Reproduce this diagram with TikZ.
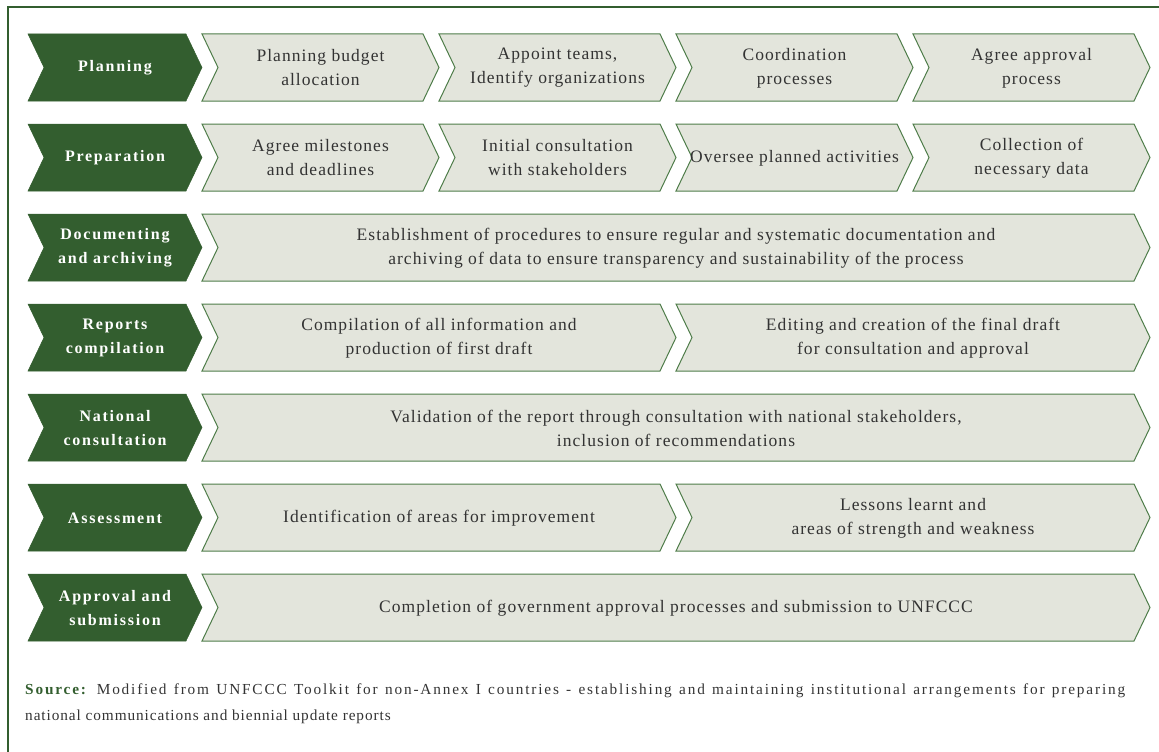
\documentclass[tikz,border=0pt]{standalone}
\usepackage{fontspec}
\setmainfont{Liberation Serif}
\newfontfamily\cellfont[LetterSpace=6]{Liberation Serif}
\newfontfamily\widefont[LetterSpace=12]{Liberation Serif}
\newfontfamily\headfont[LetterSpace=11]{Liberation Serif}
\usepackage{tikz}

\definecolor{darkleaf}{HTML}{335E2F}
\definecolor{paleleaf}{HTML}{E3E5DC}
\definecolor{edgeleaf}{HTML}{4F7D4A}
\definecolor{inktext}{HTML}{333333}

\tikzset{
  headbox/.style={fill=darkleaf, draw=darkleaf, line width=0.5pt},
  headtext/.style={text=white, align=center, font=\headfont\bfseries\fontsize{16}{24}\selectfont},
  cellbox/.style={fill=paleleaf, draw=edgeleaf, line width=1pt},
  celltext/.style={text=inktext, align=center, font=\cellfont\fontsize{17.5}{24}\selectfont},
}

% chevron: kind, left x, tip x, top y, node name, text
\newcommand{\stagebox}[6]{%
  \draw[#1box] (#2,#4) -- ({#3-16},#4) -- (#3,{#4+33.5}) -- ({#3-16},{#4+67})
    -- (#2,{#4+67}) -- ({#2+16},{#4+33.5}) -- cycle;
  \node[#1text] (#5) at ({(#2+#3)/2},{#4+34}) {#6};
}

\begin{document}
\begin{tikzpicture}[x=1pt, y=-1pt]
  \useasboundingbox (0,0) rectangle (1159,752);
  \draw[darkleaf, line width=1.5pt] (8,752) -- (8,7) -- (1159,7);

  % planning
  \stagebox{head}{28}{202}{34}{planning}{Planning}
  \stagebox{cell}{202}{439}{34}{budget}{Planning budget\\allocation}
  \stagebox{cell}{439}{676}{34}{teams}{Appoint teams,\\Identify organizations}
  \stagebox{cell}{676}{913}{34}{coord}{Coordination\\processes}
  \stagebox{cell}{913}{1150}{34}{agree}{Agree approval\\process}

  % preparation
  \stagebox{head}{28}{202}{124}{preparation}{Preparation}
  \stagebox{cell}{202}{439}{124}{milestones}{Agree milestones\\and deadlines}
  \stagebox{cell}{439}{676}{124}{initial}{Initial consultation\\with stakeholders}
  \stagebox{cell}{676}{913}{124}{oversee}{Oversee planned activities}
  \stagebox{cell}{913}{1150}{124}{collect}{Collection of\\necessary data}

  % documenting
  \stagebox{head}{28}{202}{214}{documenting}{Documenting\\and archiving}
  \stagebox{cell}{202}{1150}{214}{procedures}{Establishment of procedures to ensure regular and systematic documentation and\\archiving of data to ensure transparency and sustainability of the process}

  % reports
  \stagebox{head}{28}{202}{304}{reports}{Reports\\compilation}
  \stagebox{cell}{202}{676}{304}{compile}{Compilation of all information and\\production of first draft}
  \stagebox{cell}{676}{1150}{304}{editing}{Editing and creation of the final draft\\for consultation and approval}

  % national
  \stagebox{head}{28}{202}{394}{national}{National\\consultation}
  \stagebox{cell}{202}{1150}{394}{validation}{Validation of the report through consultation with national stakeholders,\\inclusion of recommendations}

  % assessment
  \stagebox{head}{28}{202}{484}{assessment}{Assessment}
  \stagebox{cell}{202}{676}{484}{improve}{Identification of areas for improvement}
  \stagebox{cell}{676}{1150}{484}{lessons}{Lessons learnt and\\areas of strength and weakness}

  % approval
  \stagebox{head}{28}{202}{574}{approval}{Approval and\\submission}
  \stagebox{cell}{202}{1150}{574}{completion}{Completion of government approval processes and submission to UNFCCC}

  \node[anchor=north west, align=justify, text width=1100pt, inner sep=0pt, text=inktext,
        font=\fontsize{15.3}{26}\selectfont] (source) at (25,684)
    {{\widefont{\color{darkleaf}\bfseries Source:} Modified from UNFCCC Toolkit for non-Annex I countries - establishing and maintaining institutional arrangements for preparing}\linebreak
     {\cellfont national communications and biennial update reports}};
\end{tikzpicture}
\end{document}
